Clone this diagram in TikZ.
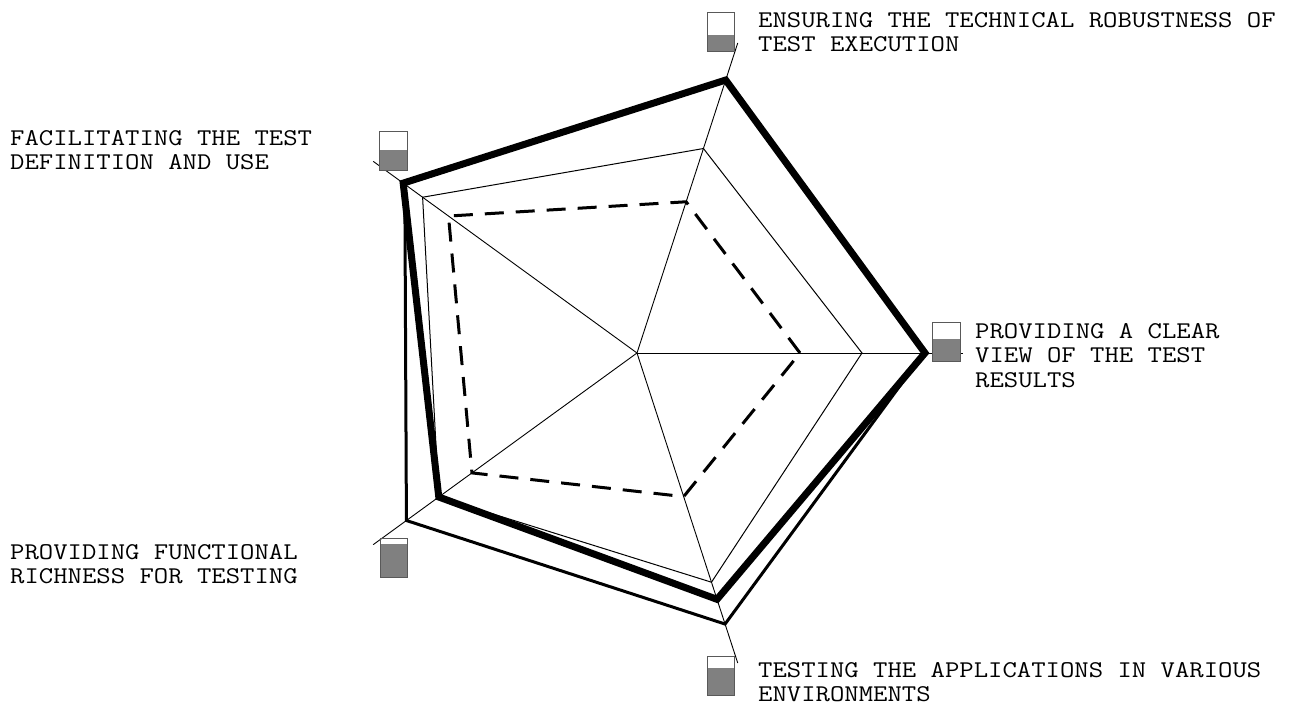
\documentclass[tikz,border=0pt]{standalone}
\usepackage{fontspec}
\newfontfamily\lblfont[FakeStretch=1.163]{Latin Modern Mono}
\begin{document}
\begin{tikzpicture}[x=1pt,y=1pt,
  axisline/.style={line width=0.9pt},
  thinser/.style={line width=1pt, line join=miter},
  dashser/.style={line width=3pt, dash pattern=on 19pt off 12pt, line join=miter},
  medser/.style={line width=3pt, line join=miter},
  thickser/.style={line width=7pt, line join=miter},
  lbl/.style={font=\lblfont\fontsize{24}{24.5}\selectfont, align=left, anchor=north west, inner sep=0pt},
  gaugefill/.style={fill=gray},
  gaugeframe/.style={draw=gray!70!black, line width=1pt},
]
\useasboundingbox (-637,-353) rectangle (652,353);
\coordinate (O) at (0,0);
% axes
\coordinate (a0) at (0:326);
\coordinate (a1) at (72:326);
\coordinate (a2) at (144:326);
\coordinate (a3) at (216:326);
\coordinate (a4) at (288:326);
\foreach \i in {0,...,4} \draw[axisline] (O) -- (a\i);
% thin series
\coordinate (t0) at (0:225);
\coordinate (t1) at (72:215);
\coordinate (t2) at (144:265);
\coordinate (t3) at (216:245);
\coordinate (t4) at (288:241);
\draw[thinser] (t0) -- (t1) -- (t2) -- (t3) -- (t4) -- cycle;
% dashed series
\coordinate (d0) at (0:163);
\coordinate (d1) at (72:159);
\coordinate (d2) at (144:233);
\coordinate (d3) at (216:204);
\coordinate (d4) at (288:151);
\draw[dashser] (d0) -- (d1) -- (d2) -- (d3) -- (d4) -- cycle;
% medium series
\coordinate (m0) at (0:287);
\coordinate (m1) at (72:287);
\coordinate (m2) at (144:287);
\coordinate (m3) at (216:285);
\coordinate (m4) at (288:285);
\draw[medser] (m0) -- (m1) -- (m2) -- (m3) -- (m4) -- cycle;
% thick series
\coordinate (k0) at (0:288);
\coordinate (k1) at (72:287);
\coordinate (k2) at (144:289);
\coordinate (k3) at (216:245);
\coordinate (k4) at (288:259);
\draw[thickser] (k0) -- (k1) -- (k2) -- (k3) -- (k4) -- cycle;
% gauges
\fill[gaugefill] (70,301) rectangle (97,318);
\draw[gaugeframe] (70,301) rectangle (97,340);
\fill[gaugefill] (-257,182) rectangle (-229,203);
\draw[gaugeframe] (-257,182) rectangle (-229,221);
\fill[gaugefill] (295,-9) rectangle (323,14);
\draw[gaugeframe] (295,-9) rectangle (323,30);
\fill[gaugefill] (-256,-224) rectangle (-229,-191);
\draw[gaugeframe] (-256,-224) rectangle (-229,-185);
\fill[gaugefill] (70,-342) rectangle (97,-315);
\draw[gaugeframe] (70,-342) rectangle (97,-303);
% labels
\node[lbl] (l1) at (121,341) {ENSURING THE TECHNICAL ROBUSTNESS OF\\TEST EXECUTION};
\node[lbl] (l2) at (-627,223) {FACILITATING THE TEST\\DEFINITION AND USE};
\node[lbl] (l0) at (338,30) {PROVIDING A CLEAR\\VIEW OF THE TEST\\RESULTS};
\node[lbl] (l3) at (-627,-191) {PROVIDING FUNCTIONAL\\RICHNESS FOR TESTING};
\node[lbl] (l4) at (121,-309) {TESTING THE APPLICATIONS IN VARIOUS\\ENVIRONMENTS};
\end{tikzpicture}
\end{document}
